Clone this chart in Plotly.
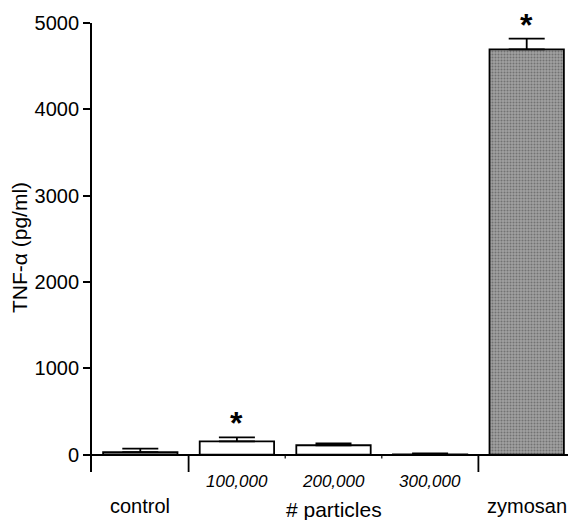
import plotly.graph_objects as go

categories = ["control", "100,000", "200,000", "300,000", "zymosan"]
tnf_values = [30, 155, 110, 3, 4695]
tnf_errors = [40, 45, 22, 12, 125]
significant = [False, True, False, False, True]
fill_colors = ["#8a8a8a", "white", "white", "white", "#a0a0a0"]
y_ticks = [0, 1000, 2000, 3000, 4000, 5000]

FONT = "Liberation Sans, Arial, Helvetica, sans-serif"

fig = go.Figure()
fig.add_trace(go.Bar(
    x=categories,
    y=tnf_values,
    width=0.77,
    marker=dict(
        color=fill_colors,
        line=dict(color="black", width=1.8),
        pattern=dict(shape=["", "", "", "", "."], fgcolor="#4a4a4a",
                     bgcolor="#a8a8a8", size=3, solidity=0.35),
    ),
    error_y=dict(type="data", array=tnf_errors, arrayminus=[0] * 5,
                 symmetric=False, color="black", thickness=1.8, width=18),
    showlegend=False,
))

annotations = []
for cat, v, e, s in zip(categories, tnf_values, tnf_errors, significant):
    if s:
        annotations.append(dict(x=cat, y=v + e, xref="x", yref="y", text="<b>*</b>",
                                showarrow=False, yanchor="bottom", yshift=-6,
                                font=dict(size=32, color="black", family=FONT)))

# category labels below axis
for i, cat in enumerate(categories):
    if cat in ("control", "zymosan"):
        annotations.append(dict(x=cat, y=0, xref="x", yref="paper", text=cat,
                                showarrow=False, yanchor="middle", yshift=-34,
                                font=dict(size=20, color="black", family=FONT)))
    else:
        annotations.append(dict(x=cat, y=0, xref="x", yref="paper",
                                text="<i>" + cat + "</i>", showarrow=False,
                                yanchor="middle", yshift=-9,
                                font=dict(size=17, color="black", family=FONT)))
annotations.append(dict(x=categories[2], y=0, xref="x", yref="paper",
                        text="# particles", showarrow=False, yanchor="middle",
                        yshift=-37, font=dict(size=21, color="black", family=FONT)))

shapes = []
for xb in [0.5, 3.5, 4.5]:
    shapes.append(dict(type="line", xref="x", yref="y", x0=xb, x1=xb,
                       y0=0, y1=-200, line=dict(color="black", width=1.8)))
for xb in [1.5, 2.5]:
    shapes.append(dict(type="line", xref="x", yref="y", x0=xb, x1=xb,
                       y0=0, y1=-45, line=dict(color="black", width=1.2)))

fig.update_layout(
    width=568, height=512,
    margin=dict(l=84, r=1, t=15, b=48),
    plot_bgcolor="white", paper_bgcolor="white",
    font=dict(family=FONT, color="black"),
    annotations=annotations,
    shapes=shapes,
    xaxis=dict(type="category", range=[-0.5, 4.5], showticklabels=False,
               showline=False, showgrid=False, ticks="", zeroline=False),
    yaxis=dict(range=[-200, 5000], tickvals=y_ticks, showgrid=False,
               showline=True, linecolor="black", linewidth=1.8,
               ticks="outside", ticklen=7, tickwidth=1.5, tickcolor="black",
               zeroline=True, zerolinecolor="black", zerolinewidth=1.8,
               automargin=False,
               tickfont=dict(size=20, family=FONT),
               title=dict(text="TNF-α (pg/ml)", font=dict(size=21, family=FONT),
                          standoff=10)),
)

fig.write_html("out.html")
